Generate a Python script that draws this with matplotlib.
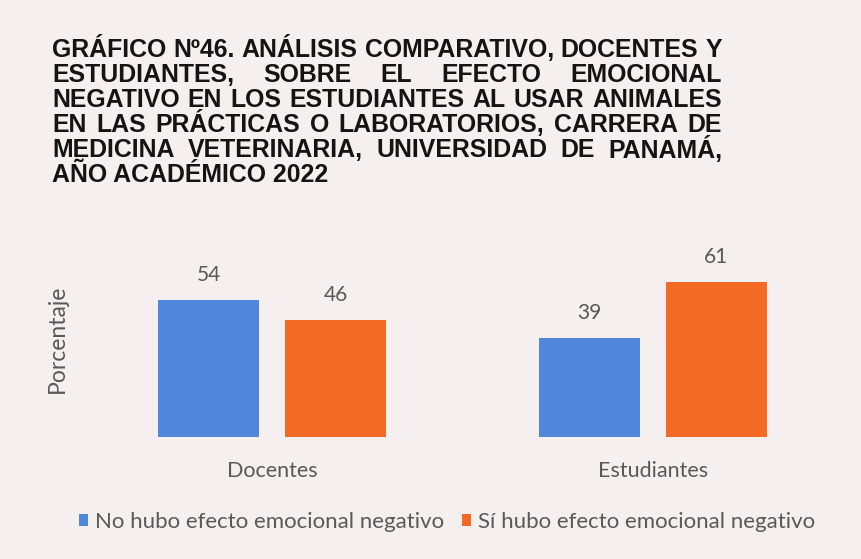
import numpy as np
import matplotlib.pyplot as plt

# Data
grupos = ['Docentes', 'Estudiantes']
no_hubo = [54, 39]
si_hubo = [46, 61]
serie_labels = ['No hubo efecto emocional negativo', 'Sí hubo efecto emocional negativo']
title_lines = [
    'GRÁFICO Nº46. ANÁLISIS COMPARATIVO, DOCENTES Y',
    'ESTUDIANTES, SOBRE EL EFECTO EMOCIONAL',
    'NEGATIVO EN LOS ESTUDIANTES AL USAR ANIMALES',
    'EN LAS PRÁCTICAS O LABORATORIOS, CARRERA DE',
    'MEDICINA VETERINARIA, UNIVERSIDAD DE PANAMÁ,',
    'AÑO ACADÉMICO 2022',
]

blue = '#5087dc'
orange = '#f26a24'
gray = '#595959'
bg = '#f5eff0'
sans = ['Lato', 'DejaVu Sans']

W, H = 861, 559
fig = plt.figure(figsize=(W / 100, H / 100), dpi=100, facecolor=bg)
renderer = fig.canvas.get_renderer()

# Title: pick the size so the longest line fills the block, then justify
x_left, x_right = 52 / W, 722 / W
title_font = dict(family=['Liberation Sans', 'DejaVu Sans'], fontweight='bold', color='#141414')
probe = fig.text(0, 0, '', **title_font, fontsize=10)
natural = []
for line in title_lines[:-1]:
    probe.set_text(line)
    natural.append(probe.get_window_extent(renderer).width)
probe.remove()
title_size = 10 * (x_right - x_left) * W / max(natural)

for i, line in enumerate(title_lines):
    y = 1 - (50 + 25 * i) / H
    words = line.split()
    if i == len(title_lines) - 1:
        fig.text(x_left, y, line, va='center', ha='left', fontsize=title_size, **title_font)
        continue
    txts = [fig.text(0, y, w, va='center', ha='left', fontsize=title_size, **title_font) for w in words]
    widths = [t.get_window_extent(renderer).width / W for t in txts]
    gap = (x_right - x_left - sum(widths)) / (len(words) - 1)
    x = x_left
    for t, w in zip(txts, widths):
        t.set_x(x)
        x += w + gap

# Bars
ax = fig.add_axes([82 / W, (H - 437) / H, 761 / W, 178 / H])
ax.set_facecolor('none')
x = np.arange(len(grupos))
bw = 0.265
off = 0.1667
b1 = ax.bar(x - off, no_hubo, bw, color=blue, label=serie_labels[0])
b2 = ax.bar(x + off, si_hubo, bw, color=orange, label=serie_labels[1])
for bars in (b1, b2):
    for rect in bars:
        ax.annotate(f'{rect.get_height():.0f}', (rect.get_x() + rect.get_width() / 2, rect.get_height()),
                    xytext=(0, 18), textcoords='offset points', ha='center', va='center',
                    annotation_clip=False, family=sans, fontsize=15, color=gray)

ax.set_xlim(-0.5, 1.5)
ax.set_ylim(0, 70)
ax.set_xticks(x)
ax.set_xticklabels(grupos, family=sans, fontsize=15.5, color=gray)
ax.tick_params(axis='x', length=0, pad=17)
ax.set_yticks([])
for s in ax.spines.values():
    s.set_visible(False)
ax.set_ylabel('Porcentaje', fontsize=16.5, color=gray, family=sans)
ax.yaxis.set_label_coords(-14 / 761, 0.55)

fig.legend(handles=[b1, b2], loc='center', bbox_to_anchor=(447 / W, 1 - 522 / H), ncol=2,
           frameon=False, prop=dict(family=sans, size=16),
           labelcolor=gray, handlelength=0.42, handleheight=0.42, handletextpad=0.3,
           columnspacing=0.8)

fig.savefig('out.png', dpi=100, facecolor=bg)
